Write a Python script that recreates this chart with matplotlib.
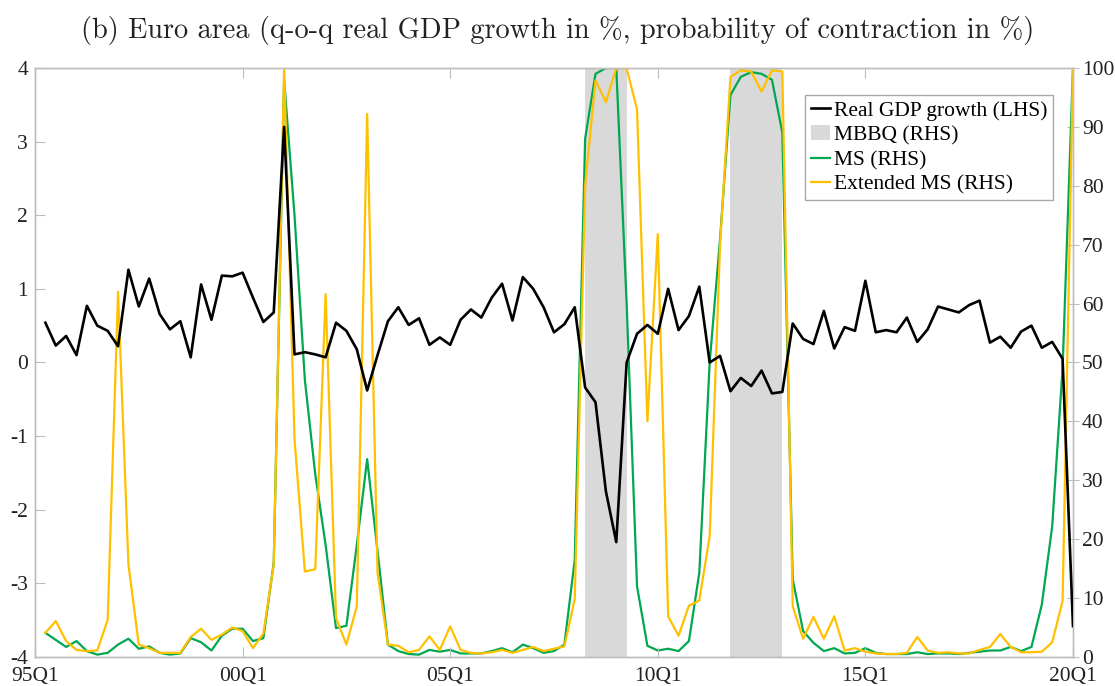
import numpy as np
import matplotlib
matplotlib.use("Agg")
import matplotlib.pyplot as plt
from matplotlib.lines import Line2D
from matplotlib.patches import Patch

plt.rcParams['font.family'] = ['Liberation Serif', 'DejaVu Serif']
plt.rcParams['axes.unicode_minus'] = False

# quarter index: 0 = 1995Q1, data runs from 1995Q2 to 2020Q1
quarters = np.arange(1, 101)

# real GDP growth, q-o-q in % (LHS)
gdp = [0.54, 0.23, 0.36, 0.10, 0.77, 0.50, 0.43, 0.22, 1.26, 0.76,
       1.14, 0.66, 0.45, 0.56, 0.07, 1.06, 0.58, 1.18, 1.17, 1.22,
       0.88, 0.55, 0.68, 3.20, 0.11, 0.14, 0.11, 0.07, 0.54, 0.43,
       0.18, -0.38, 0.10, 0.56, 0.75, 0.51, 0.60, 0.24, 0.34, 0.24,
       0.58, 0.72, 0.61, 0.88, 1.07, 0.57, 1.16, 1.00, 0.75, 0.41,
       0.52, 0.75, -0.34, -0.54, -1.75, -2.44, 0.00, 0.39, 0.51, 0.39,
       1.00, 0.44, 0.63, 1.03, 0.00, 0.09, -0.39, -0.21, -0.32, -0.11,
       -0.42, -0.40, 0.53, 0.32, 0.25, 0.70, 0.19, 0.48, 0.43, 1.11,
       0.41, 0.44, 0.41, 0.61, 0.28, 0.45, 0.76, 0.72, 0.68, 0.78,
       0.84, 0.27, 0.35, 0.20, 0.42, 0.50, 0.20, 0.28, 0.05, -3.58]

# probability of contraction, MS model (RHS)
ms = [4.1, 2.9, 1.7, 2.7, 1.0, 0.4, 0.7, 2.1, 3.1, 1.4,
      1.8, 0.7, 0.4, 0.6, 3.2, 2.5, 1.1, 3.6, 4.8, 4.8,
      2.7, 3.2, 16.0, 98.0, 75.0, 47.0, 31.0, 19.0, 4.9, 5.3,
      19.0, 33.6, 18.0, 2.1, 1.0, 0.5, 0.4, 1.2, 0.9, 1.2,
      0.6, 0.6, 0.6, 1.0, 1.5, 0.8, 2.1, 1.5, 0.7, 1.0,
      2.1, 16.5, 88.0, 99.0, 100.0, 100.0, 60.0, 12.0, 1.9, 1.1,
      1.4, 1.0, 2.7, 14.3, 50.0, 71.0, 95.4, 98.5, 99.3, 99.0,
      98.0, 89.0, 13.2, 4.4, 2.4, 1.0, 1.5, 0.6, 0.7, 1.5,
      0.7, 0.5, 0.5, 0.5, 0.8, 0.5, 0.6, 0.6, 0.5, 0.7,
      0.9, 1.1, 1.1, 1.7, 1.0, 1.7, 8.9, 22.2, 49.0, 99.9]

# probability of contraction, extended MS model (RHS)
ext_ms = [4.1, 6.1, 2.7, 1.2, 1.0, 1.1, 6.3, 62.0, 15.7, 2.1,
          1.5, 0.7, 0.7, 0.7, 3.4, 4.8, 2.9, 3.8, 5.0, 4.4,
          1.5, 4.0, 15.7, 100.0, 37.0, 14.5, 14.9, 61.6, 6.6, 2.1,
          8.6, 92.2, 14.3, 2.1, 1.9, 0.8, 1.2, 3.5, 1.2, 5.2,
          1.2, 0.7, 0.6, 0.8, 1.2, 0.7, 1.2, 1.7, 1.0, 1.4,
          1.8, 9.8, 80.0, 97.9, 94.2, 100.0, 99.9, 93.0, 40.0, 71.8,
          6.9, 3.6, 8.7, 9.6, 20.5, 70.0, 98.5, 99.6, 99.4, 96.0,
          99.6, 99.4, 8.6, 3.1, 6.8, 3.1, 6.9, 1.1, 1.5, 0.9,
          0.6, 0.5, 0.5, 0.7, 3.4, 1.1, 0.7, 0.8, 0.6, 0.6,
          1.2, 1.7, 3.9, 1.7, 0.8, 0.8, 0.9, 2.5, 9.5, 100.0]

# MBBQ contraction indicator (1 = contraction)
mbbq = np.zeros(100, dtype=int)
mbbq[52:57] = 1   # 08Q2 - 09Q2
mbbq[66:72] = 1   # 11Q4 - 13Q1

tick_pos = [0, 20, 40, 60, 80, 100]
tick_labels = ['95Q1', '00Q1', '05Q1', '10Q1', '15Q1', '20Q1']

c_gdp = 'black'
c_ms = '#00A84F'
c_ext = '#FFC000'
c_mbbq = '#D9D9D9'
c_frame = '#BDBDBD'

fig = plt.figure(figsize=(11.15, 6.86), dpi=100)
ax = fig.add_axes([0.0314, 0.0423, 0.9309, 0.8586])
ax2 = ax.twinx()

# shaded contraction periods (on RHS axis so black line sits on top)
idx = np.where(mbbq == 1)[0]
runs = np.split(idx, np.where(np.diff(idx) > 1)[0] + 1)
for r in runs:
    ax2.axvspan(quarters[r[0]], quarters[r[-1]], color=c_mbbq, lw=0, zorder=0)

ax2.plot(quarters, ms, color=c_ms, lw=1.6, zorder=2)
ax2.plot(quarters, ext_ms, color=c_ext, lw=1.6, zorder=3)
ax.plot(quarters, gdp, color=c_gdp, lw=1.9, zorder=4)

ax.set_zorder(ax2.get_zorder() + 1)
ax.patch.set_visible(False)

ax.set_xlim(0, 100)
ax.set_ylim(-4, 4)
ax2.set_ylim(0, 100)
ax.set_xticks(tick_pos)
ax.set_xticklabels(tick_labels)
ax.set_yticks(np.arange(-4, 5, 1))
ax2.set_yticks(np.arange(0, 101, 10))

for a in (ax, ax2):
    for s in a.spines.values():
        s.set_color(c_frame)
        s.set_linewidth(1.0)

ax.tick_params(axis='x', direction='in', top=True, length=7, color=c_frame,
               labelsize=15.5, pad=7, labelcolor='#222222')
ax.tick_params(axis='y', direction='in', length=7, color=c_frame,
               labelsize=15.5, pad=5, labelcolor='#222222')
ax2.tick_params(axis='y', direction='inout', length=9, color=c_frame,
                labelsize=15.5, pad=2, labelcolor='#222222')

handles = [Line2D([], [], color=c_gdp, lw=1.9),
           Patch(facecolor=c_mbbq, edgecolor='none'),
           Line2D([], [], color=c_ms, lw=1.6),
           Line2D([], [], color=c_ext, lw=1.6)]
labels = ['Real GDP growth (LHS)', 'MBBQ (RHS)', 'MS (RHS)', 'Extended MS (RHS)']
leg = ax.legend(handles, labels, loc='upper right', bbox_to_anchor=(0.981, 0.954),
                borderaxespad=0, fontsize=15.5, frameon=True, fancybox=False,
                framealpha=1, edgecolor='#AAAAAA', handlelength=0.9,
                handletextpad=0.2, labelspacing=0.22, borderpad=0.25)
leg.get_frame().set_linewidth(1.0)

fig.text(0.5, 0.956, '(b) Euro area (q-o-q real GDP growth in %, probability of contraction in %)',
         ha='center', va='center', fontsize=20.4, color='#222222', family='cmr10')

fig.savefig('out.png', dpi=100)
